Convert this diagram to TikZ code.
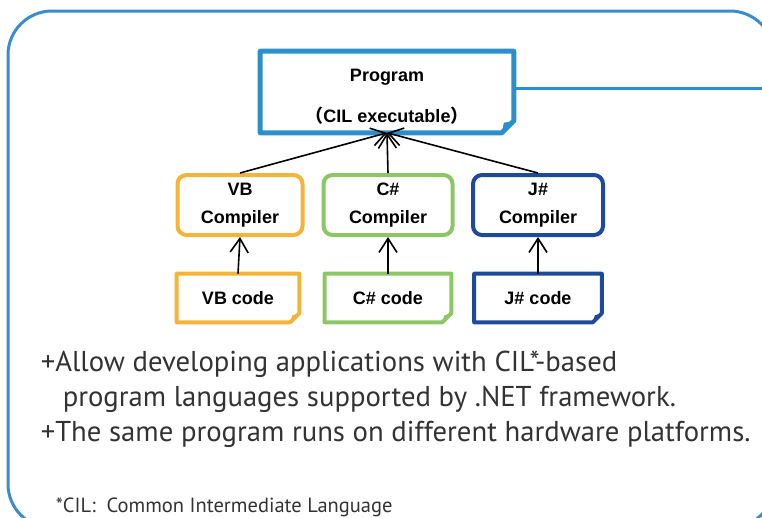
\documentclass[tikz,border=0pt]{standalone}
\usepackage{fontspec}
\setmainfont{Liberation Sans}
\newfontfamily\bodyfont{PT Sans}
\newfontfamily\cjk{Noto Sans CJK SC}
\usetikzlibrary{arrows.meta}
\definecolor{progblue}{RGB}{43,143,203}
\definecolor{frameblue}{RGB}{58,140,207}
\definecolor{vborange}{RGB}{246,179,58}
\definecolor{csgreen}{RGB}{141,198,101}
\definecolor{jsnavy}{RGB}{30,74,155}
\definecolor{bodygray}{RGB}{51,51,51}
\tikzset{compiler/.style={
  rectangle,rounded corners=9pt,
  draw,line width=4pt,
  align=center,font=\bfseries\fontsize{18}{22}\selectfont}}
\tikzset{notebox/.style={
  rectangle,
  inner sep=0pt,font=\bfseries\fontsize{18}{22}\selectfont}}
\tikzset{noteline/.style={line width=4pt,line join=round}}
\tikzset{>={Straight Barb[length=14pt,width=18pt]}}

\begin{document}
\begin{tikzpicture}[x=1pt,y=-1pt,line width=1.6pt]
  \useasboundingbox (0,0) rectangle (762,517);
  \clip (0,0) rectangle (762,517);
  \draw[frameblue,line width=3pt,rounded corners=44pt] (8,11) rectangle (774,528);
  % program box
  \node[notebox,minimum width=252pt,minimum height=80pt] (prog) at (387,92) {};
  \node[notebox,align=center] (progtext) at (387,97)
    {Program\\[19pt]{\cjk （}CIL executable{\cjk ）}};
  \draw[progblue,noteline,line width=5pt] (prog.north west) -- (prog.north east)
    -- ([yshift=12pt]prog.south east) -- ([xshift=-12pt]prog.south east) -- (prog.south west) -- cycle;
  \fill[progblue] ([yshift=12pt]prog.south east) -- ([xshift=-12pt]prog.south east)
    -- ([shift={(-10pt,10pt)}]prog.south east) -- cycle;
  \coordinate (out) at (762,88);
  \draw[progblue,line width=3pt] (prog.east |- out) -- (out);
  % compilers and code
  \foreach \n/\p/\w/\c/\l in {
      vb/{(240,205)}/125/vborange/VB,
      cs/{(388,205)}/129/csgreen/C\#,
      js/{(538,205)}/130/jsnavy/J\#}
    \node[compiler,draw=\c,minimum width=\w pt,minimum height=60pt] (\n comp) at \p {\l\\[6pt]Compiler};
  \foreach \n/\p/\w/\c/\l in {
      vb/{(238,298)}/121/vborange/VB code,
      cs/{(388,298)}/125/csgreen/C\# code,
      js/{(538,298)}/126/jsnavy/J\# code} {
    \node[notebox,minimum width=\w pt,minimum height=47pt] (\n code) at \p {\l};
    \draw[\c,noteline] (\n code.north west) -- (\n code.north east)
      -- ([yshift=9pt]\n code.south east) -- ([xshift=-9pt]\n code.south east) -- (\n code.south west) -- cycle;
    \fill[\c] ([yshift=9pt]\n code.south east) -- ([xshift=-9pt]\n code.south east)
      -- ([shift={(-7pt,7pt)}]\n code.south east) -- cycle;
    \draw[->] (\n code.north) -- (\n comp.south);
    \draw[->] (\n comp.north) -- (prog.south);
  }
  % notes
  \node[anchor=base west,font=\bodyfont\fontsize{28.7}{35}\selectfont,text=bodygray,align=left,inner sep=0pt] (pros) at (40,441)
    {+Allow developing applications with CIL*-based\\
     \hspace*{22pt}program languages supported by .NET framework.\\
     +The same program runs on different hardware platforms.};
  \node[anchor=base west,font=\bodyfont\fontsize{20.5}{24}\selectfont,text=bodygray,inner sep=0pt] (cil) at (55,512)
    {*CIL:\ \ Common Intermediate Language};
\end{tikzpicture}
\end{document}
